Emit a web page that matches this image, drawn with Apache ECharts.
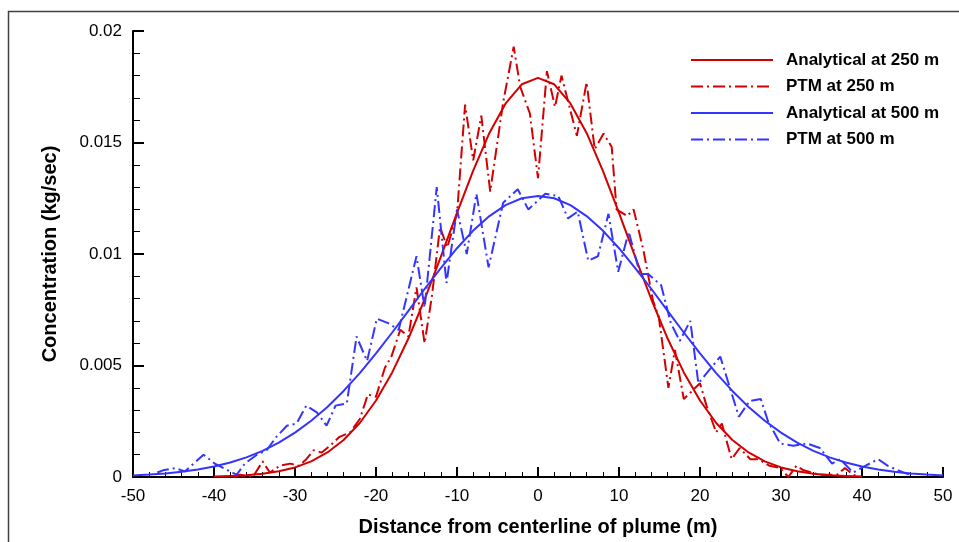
<!DOCTYPE html>
<html>
<head>
<meta charset="utf-8">
<script src="https://cdn.jsdelivr.net/npm/echarts@6/dist/echarts.min.js"></script>
<style>
  html, body { margin: 0; padding: 0; background: #fff; }
  #plume { width: 959px; height: 542px; }
</style>
</head>
<body>
<div id="plume"></div>
<script>
// analytical profiles, sampled every 2 m
var ana250X = [-40,-38,-36,-34,-32,-30,-28,-26,-24,-22,-20,-18,-16,-14,-12,-10,-8,-6,-4,-2,0,2,4,6,8,10,12,14,16,18,20,22,24,26,28,30,32,34,36,38,40];
var ana250Y = [0.00002,0.00005,0.00008,0.00015,0.00026,0.00043,0.00070,0.00110,0.00166,0.00242,0.00343,0.00469,0.00621,0.00796,0.00987,0.01184,0.01374,0.01543,0.01675,0.01761,0.01790,
               0.01761,0.01675,0.01543,0.01374,0.01184,0.00987,0.00796,0.00621,0.00469,0.00343,0.00242,0.00166,0.00110,0.00070,0.00043,0.00026,0.00015,0.00008,0.00005,0.00002];
var ana500X = [-50,-48,-46,-44,-42,-40,-38,-36,-34,-32,-30,-28,-26,-24,-22,-20,-18,-16,-14,-12,-10,-8,-6,-4,-2,0,2,4,6,8,10,12,14,16,18,20,22,24,26,28,30,32,34,36,38,40,42,44,46,48,50];
var ana500Y = [0.00007,0.00011,0.00016,0.00024,0.00034,0.00047,0.00065,0.00088,0.00117,0.00154,0.00199,0.00252,0.00314,0.00386,0.00466,0.00554,0.00648,0.00745,0.00843,0.00937,0.01026,0.01105,0.01170,0.01219,0.01250,0.01260,
               0.01250,0.01219,0.01170,0.01105,0.01026,0.00937,0.00843,0.00745,0.00648,0.00554,0.00466,0.00386,0.00314,0.00252,0.00199,0.00154,0.00117,0.00088,0.00065,0.00047,0.00034,0.00024,0.00016,0.00011,0.00007];

// particle tracking results
var ptm250X = [-37.6,-36.8,-35.2,-34.0,-33.1,-31.9,-30.6,-29.5,-28.6,-27.7,-26.7,-25.7,-24.5,-23.2,-22.0,-21.0,-20.0,-18.9,-18.1,-17.0,-16.0,-15.0,-14.0,-13.1,-12.1,-11.2,-10.0,-9.0,-8.0,-7.0,-5.9,-4.3,-3.0,-2.2,-1.0,0.0,
               1.1,2.1,2.9,4.8,6.0,7.0,8.1,9.1,9.7,11.0,11.8,13.0,14.2,14.9,16.1,16.9,18.0,20.0,20.8,22.0,22.7,23.9,24.9,26.2,27.2,28.6,29.9,30.9,31.9,32.8,34.8,36.9,37.9,38.9,39.8];
var ptm250Y = [0.0000,0.0001,0.0000,0.0007,0.0002,0.0005,0.0006,0.0005,0.0008,0.0012,0.0011,0.0014,0.0018,0.0020,0.0026,0.0037,0.0036,0.0049,0.0054,0.0066,0.0063,0.0085,0.0060,0.0081,0.0112,0.0103,0.0118,0.0167,0.0142,0.0162,0.0128,0.0168,0.0193,0.0175,0.0163,0.0134,
               0.0182,0.0166,0.0180,0.0153,0.0177,0.0147,0.0154,0.0148,0.0120,0.0117,0.0120,0.0102,0.0079,0.0072,0.0040,0.0057,0.0035,0.0042,0.0032,0.0020,0.0024,0.0008,0.0013,0.0008,0.0008,0.0005,0.0004,0.0000,0.0005,0.0003,0.0001,0.0001,0.0004,0.0001,0.0000];
var ptm500X = [-47.0,-46.3,-44.8,-43.6,-41.3,-39.9,-37.2,-36.2,-34.7,-33.5,-32.3,-31.0,-29.8,-28.6,-27.3,-26.1,-25.0,-23.6,-22.4,-21.1,-19.9,-18.5,-17.2,-15.0,-14.0,-12.5,-11.3,-10.0,-8.8,-7.6,-6.1,-4.3,-2.5,-1.2,
               0.9,2.5,3.7,4.9,6.2,7.4,8.7,9.9,11.2,12.6,13.6,15.2,16.4,17.5,18.8,19.8,22.5,24.8,26.1,27.5,28.4,29.9,31.5,33.2,34.8,36.3,37.3,38.9,40.4,42.0,43.2,45.1,46.0];
var ptm500Y = [0.0002,0.0003,0.0004,0.00025,0.0010,0.0006,0.0001,0.0006,0.0010,0.0012,0.0018,0.0023,0.0024,0.0032,0.0029,0.0023,0.0032,0.0033,0.0063,0.0052,0.0071,0.0069,0.0066,0.0099,0.0076,0.0130,0.0087,0.0120,0.0100,0.0127,0.0094,0.0123,0.0129,0.0120,
               0.0127,0.0126,0.0116,0.0119,0.0097,0.0099,0.0118,0.0092,0.0110,0.0091,0.0091,0.0086,0.0069,0.0061,0.0070,0.0042,0.0054,0.0027,0.0034,0.0035,0.0025,0.0015,0.0014,0.0015,0.0013,0.0006,0.0008,0.0002,0.0005,0.0008,0.0005,0.0002,0.0001];

var xTicks = [-50,-40,-30,-20,-10,0,10,20,30,40,50];
var seriesNames = ['Analytical at 250 m','PTM at 250 m','Analytical at 500 m','PTM at 500 m'];

var RED = '#d40000', BLUE = '#3434ff';
var dashDot = [12, 4, 2, 4];

function pairs(xs, ys) {
    return xs.map(function (x, i) { return [x, ys[i]]; });
}

var font = 'Liberation Sans, Arial, sans-serif';
var chart = echarts.init(document.getElementById('plume'), null, {renderer: 'canvas'});

var option = {
    backgroundColor: '#fff',
    animation: false,
    grid: {left: 133, right: 16, top: 31, bottom: 65, containLabel: false},
    legend: {
        orient: 'vertical',
        left: 690,
        top: 50,
        padding: 0,
        itemWidth: 82,
        itemHeight: 14,
        itemGap: 6.5,
        itemStyle: {opacity: 0},
        textStyle: {fontFamily: font, fontSize: 17, fontWeight: 'bold', color: '#000', padding: [0, 0, 0, 8], lineHeight: 20},
        data: seriesNames
    },
    xAxis: {
        type: 'value',
        min: -50, max: 50, interval: 10,
        axisLine: {show: true, onZero: false, lineStyle: {color: '#000', width: 2}},
        axisTick: {show: true, inside: true, length: 10, lineStyle: {color: '#000', width: 2}},
        minorTick: {show: true, splitNumber: 5, length: 5, lineStyle: {color: '#000', width: 1}},
        splitLine: {show: false},
        axisLabel: {
            margin: 11, color: '#000', fontFamily: font, fontSize: 17,
            formatter: function (v) { return xTicks.indexOf(v) >= 0 ? String(v) : ''; }
        }
    },
    yAxis: {
        type: 'value',
        min: 0, max: 0.02, interval: 0.005,
        axisLine: {show: true, onZero: false, lineStyle: {color: '#000', width: 2}},
        axisTick: {show: true, inside: true, length: 11, lineStyle: {color: '#000', width: 2}},
        minorTick: {show: true, splitNumber: 5, length: 7, lineStyle: {color: '#000', width: 1}},
        splitLine: {show: false},
        axisLabel: {margin: 11, color: '#000', fontFamily: font, fontSize: 17}
    },
    graphic: [
        {type: 'rect', silent: true, shape: {x: 8.5, y: 11.5, width: 1200, height: 1200},
         style: {fill: null, stroke: '#404040', lineWidth: 1.5}},
        {type: 'text', x: 538, y: 527,
         style: {text: 'Distance from centerline of plume (m)', font: 'bold 20px ' + font, fill: '#000', align: 'center', verticalAlign: 'middle'}},
        {type: 'text', x: 40, y: 254, rotation: Math.PI / 2,
         style: {text: 'Concentration (kg/sec)', font: 'bold 20px ' + font, fill: '#000', align: 'center', verticalAlign: 'top'}}
    ],
    series: [
        {name: seriesNames[0], type: 'line', symbol: 'none', data: pairs(ana250X, ana250Y),
         lineStyle: {color: RED, width: 2}, itemStyle: {color: RED}},
        {name: seriesNames[1], type: 'line', symbol: 'none', data: pairs(ptm250X, ptm250Y),
         lineStyle: {color: RED, width: 2, type: dashDot}, itemStyle: {color: RED}},
        {name: seriesNames[2], type: 'line', symbol: 'none', data: pairs(ana500X, ana500Y),
         lineStyle: {color: BLUE, width: 2}, itemStyle: {color: BLUE}},
        {name: seriesNames[3], type: 'line', symbol: 'none', data: pairs(ptm500X, ptm500Y),
         lineStyle: {color: BLUE, width: 2, type: dashDot}, itemStyle: {color: BLUE}}
    ]
};
chart.setOption(option);
</script>
</body>
</html>
